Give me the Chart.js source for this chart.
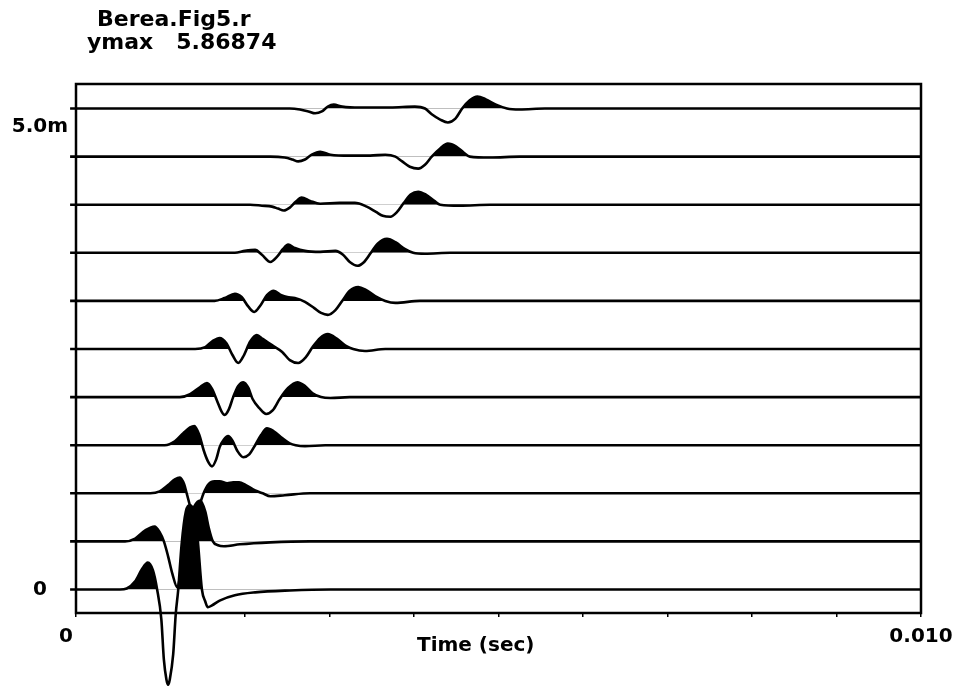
<!DOCTYPE html>
<html>
<head>
<meta charset="utf-8">
<script src="https://cdn.jsdelivr.net/npm/chart.js@4.4.1/dist/chart.umd.min.js"></script>
<style>
  html, body { margin: 0; padding: 0; background: #fff; }
  #chart { display: block; }
</style>
</head>
<body>
<canvas id="chart" width="969" height="687"></canvas>
<script>
// receiver offsets (m), one wiggle trace each
const offsets = [0, 0.52, 1.04, 1.56, 2.08, 2.6, 3.12, 3.64, 4.16, 4.68, 5.2];
const spacing = 0.52;

// axis ticks
const xTickMarks = [0, 1, 2, 3, 4, 5, 6, 7, 8, 9, 10];   // ms
const xTicks = [0, 10];
const xTickText = ['0\u2002\u2002', '0.010'];
const yTicks = [0, 5.0];
const yTickText = ['0', '5.0m'];

// [time (ms), amplitude (in trace spacings)]
const trace0 = [[-0.07,0],[0.52,0],[0.60,0.02],[0.70,0.17],[0.78,0.42],[0.85,0.56],[0.91,0.40],[0.96,0],
  [1.01,-0.62],[1.04,-1.46],[1.07,-1.87],[1.09,-1.98],[1.11,-1.87],[1.15,-1.35],[1.18,-0.52],[1.21,0],
  [1.25,0.94],[1.30,1.62],[1.35,1.75],[1.40,1.58],[1.44,1.04],[1.49,0],[1.53,-0.25],[1.56,-0.37],
  [1.61,-0.33],[1.70,-0.23],[1.88,-0.12],[2.12,-0.06],[2.53,-0.02],[3.01,0],[10,0]];
const trace1 = [[-0.07,0],[0.58,0],[0.70,0.06],[0.82,0.23],[0.93,0.31],[0.99,0.19],[1.04,0],[1.09,-0.31],
  [1.14,-0.67],[1.20,-0.96],[1.24,-0.62],[1.29,0],[1.34,0.46],[1.40,0.73],[1.47,0.85],[1.53,0.62],
  [1.57,0.29],[1.62,0],[1.68,-0.08],[1.75,-0.10],[1.94,-0.06],[2.30,-0.02],[2.77,0],[10,0]];
const trace2 = [[-0.07,0],[0.88,0],[0.99,0.04],[1.09,0.17],[1.17,0.29],[1.23,0.33],[1.28,0.19],[1.31,0],
  [1.36,-0.31],[1.41,-0.42],[1.46,-0.25],[1.51,0],[1.57,0.19],[1.64,0.25],[1.70,0.25],[1.79,0.21],
  [1.86,0.23],[1.93,0.23],[2.01,0.17],[2.12,0.06],[2.21,0],[2.30,-0.06],[2.47,-0.04],[2.77,0],[10,0]];
const trace3 = [[-0.07,0],[1.05,0],[1.17,0.08],[1.27,0.25],[1.35,0.37],[1.40,0.40],[1.46,0.21],[1.51,-0.10],
  [1.56,-0.33],[1.61,-0.44],[1.66,-0.29],[1.70,-0.04],[1.75,0.12],[1.80,0.19],[1.85,0.10],[1.91,-0.12],
  [1.98,-0.25],[2.05,-0.19],[2.12,0],[2.19,0.21],[2.26,0.35],[2.34,0.29],[2.44,0.15],[2.53,0.04],
  [2.60,0],[2.71,-0.02],[2.95,0],[10,0]];
const trace4 = [[-0.07,0],[1.23,0],[1.35,0.06],[1.47,0.21],[1.55,0.29],[1.61,0.17],[1.67,-0.08],[1.72,-0.29],
  [1.76,-0.37],[1.81,-0.25],[1.86,0],[1.92,0.23],[1.98,0.31],[2.04,0.19],[2.09,-0.04],[2.17,-0.23],
  [2.25,-0.35],[2.33,-0.27],[2.41,-0.04],[2.51,0.19],[2.62,0.31],[2.71,0.23],[2.80,0.08],[2.90,0],
  [3.01,-0.02],[3.24,0],[10,0]];
const trace5 = [[-0.07,0],[1.41,0],[1.53,0.04],[1.62,0.17],[1.70,0.23],[1.78,0.12],[1.85,-0.12],[1.92,-0.29],
  [1.99,-0.12],[2.06,0.15],[2.14,0.29],[2.21,0.21],[2.32,0.08],[2.44,-0.06],[2.53,-0.23],[2.63,-0.29],
  [2.72,-0.17],[2.80,0.04],[2.89,0.23],[2.98,0.31],[3.09,0.21],[3.20,0.06],[3.28,0],[3.42,-0.04],
  [3.66,0],[10,0]];
const trace6 = [[-0.07,0],[1.64,0],[1.76,0.06],[1.88,0.15],[1.96,0.08],[2.04,-0.12],[2.11,-0.23],[2.18,-0.10],
  [2.26,0.12],[2.34,0.21],[2.43,0.12],[2.50,0.08],[2.59,0.06],[2.71,-0.02],[2.82,-0.15],[2.90,-0.25],
  [2.98,-0.29],[3.07,-0.19],[3.15,0],[3.24,0.21],[3.34,0.29],[3.43,0.23],[3.54,0.10],[3.66,0],
  [3.78,-0.04],[4.07,0],[10,0]];
const trace7 = [[-0.07,0],[1.88,0],[2.00,0.04],[2.12,0.06],[2.20,-0.04],[2.30,-0.19],[2.38,-0.08],[2.45,0.08],
  [2.51,0.17],[2.59,0.10],[2.71,0.04],[2.89,0.02],[3.07,0.04],[3.16,-0.04],[3.24,-0.19],[3.33,-0.27],
  [3.41,-0.19],[3.49,0],[3.57,0.19],[3.68,0.29],[3.79,0.21],[3.89,0.08],[3.99,0],[4.13,-0.02],
  [4.43,0],[10,0]];
const trace8 = [[-0.07,0],[2.06,0],[2.20,-0.02],[2.32,-0.04],[2.39,-0.08],[2.46,-0.12],[2.53,-0.06],[2.60,0.06],
  [2.67,0.15],[2.77,0.08],[2.89,0.02],[3.12,0.04],[3.30,0.04],[3.44,-0.04],[3.55,-0.15],[3.63,-0.23],
  [3.72,-0.25],[3.80,-0.15],[3.88,0.04],[3.96,0.21],[4.05,0.27],[4.14,0.21],[4.24,0.08],[4.31,0],
  [4.54,-0.02],[4.90,0],[10,0]];
const trace9 = [[-0.07,0],[2.30,0],[2.47,-0.02],[2.56,-0.06],[2.63,-0.10],[2.71,-0.06],[2.79,0.04],[2.89,0.10],
  [3.01,0.04],[3.24,0.02],[3.48,0.02],[3.66,0.04],[3.78,0],[3.86,-0.10],[3.95,-0.21],[4.05,-0.25],
  [4.13,-0.17],[4.21,0],[4.31,0.17],[4.40,0.27],[4.50,0.21],[4.59,0.08],[4.66,0],[4.90,-0.02],
  [5.25,0],[10,0]];
const trace10 = [[-0.07,0],[2.53,0],[2.65,-0.02],[2.75,-0.06],[2.83,-0.10],[2.91,-0.06],[2.98,0.04],[3.05,0.08],
  [3.15,0.04],[3.36,0.02],[3.72,0.02],[4.01,0.04],[4.13,0],[4.21,-0.12],[4.31,-0.23],[4.40,-0.29],
  [4.49,-0.21],[4.57,0],[4.66,0.17],[4.75,0.25],[4.85,0.19],[4.97,0.08],[5.10,0],[5.25,-0.02],
  [5.55,0],[10,0]];

const traces = [trace0, trace1, trace2, trace3, trace4, trace5, trace6, trace7, trace8, trace9, trace10];

const labelFont = { family: 'DejaVu Sans', size: 20, weight: 'bold' };

// wiggle traces, positive lobes filled black
const datasets = traces.map((tr, i) => ({
  data: tr.map(p => ({ x: p[0], y: offsets[i] + p[1] * spacing })),
  borderColor: '#000',
  borderWidth: 2.6,
  pointRadius: 0,
  cubicInterpolationMode: 'monotone',
  fill: { target: { value: offsets[i] }, above: '#000', below: 'rgba(0,0,0,0)' },
  clip: false
}));

// box round the plot
const framePlugin = {
  id: 'frame',
  beforeDatasetsDraw(chart) {
    const { ctx, chartArea: a } = chart;
    ctx.save();
    ctx.strokeStyle = '#000';
    ctx.lineWidth = 2.5;
    ctx.strokeRect(a.left, a.top, a.right - a.left, a.bottom - a.top);
    ctx.restore();
  }
};

// header text and axis title
const textPlugin = {
  id: 'texts',
  afterDraw(chart) {
    const ctx = chart.ctx;
    ctx.save();
    ctx.fillStyle = '#000';
    ctx.textBaseline = 'middle';
    ctx.textAlign = 'left';
    ctx.font = 'bold 22px "DejaVu Sans"';
    ctx.fillText('Berea.Fig5.r', 97, 20);
    ctx.fillText('ymax   5.86874', 87, 43);
    ctx.font = 'bold 20px "DejaVu Sans"';
    ctx.fillText('Time (sec)', 417, 646);
    ctx.restore();
  }
};

new Chart(document.getElementById('chart'), {
  type: 'line',
  data: { datasets: datasets },
  options: {
    responsive: false,
    animation: false,
    devicePixelRatio: 1,
    layout: { padding: { top: 84, right: 48, left: 0, bottom: 0 } },
    plugins: {
      legend: { display: false },
      tooltip: { enabled: false }
    },
    scales: {
      x: {
        type: 'linear',
        min: 0,
        max: 10,
        afterFit: s => { s.height = 74; },
        afterBuildTicks: s => { s.ticks = xTickMarks.map(v => ({ value: v })); },
        ticks: {
          autoSkip: false,
          maxRotation: 0,
          padding: 8,
          color: '#000',
          font: labelFont,
          callback: v => {
            const k = xTicks.indexOf(v);
            return k >= 0 ? xTickText[k] : '';
          }
        },
        grid: { display: true, drawOnChartArea: false, drawTicks: true, tickLength: 4, color: '#000', lineWidth: 1.5 },
        border: { display: false }
      },
      y: {
        type: 'linear',
        min: -0.254,
        max: 5.465,
        afterFit: s => { s.width = 76; },
        afterBuildTicks: s => { s.ticks = yTicks.map(v => ({ value: v })); },
        ticks: {
          crossAlign: 'center',
          padding: 8,
          color: '#000',
          font: labelFont,
          callback: v => yTickText[yTicks.indexOf(v)]
        },
        grid: { display: false, drawTicks: false },
        border: { display: false }
      }
    }
  },
  plugins: [framePlugin, textPlugin]
});
</script>
</body>
</html>
